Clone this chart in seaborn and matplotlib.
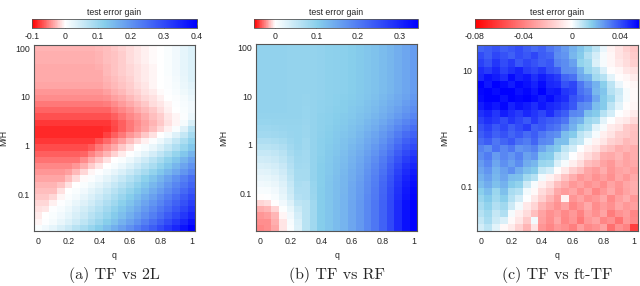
import numpy as np
import matplotlib
matplotlib.use('Agg')
import matplotlib.pyplot as plt
from matplotlib.colors import LinearSegmentedColormap
import seaborn as sns

# q grid (columns) and log10(M/H) row centres, top row first
q_vals = [0.0, 0.05, 0.1, 0.15, 0.2, 0.25, 0.3, 0.35, 0.4, 0.45, 0.5,
          0.55, 0.6, 0.65, 0.7, 0.75, 0.8, 0.85, 0.9, 0.95, 1.0]
mh_log_ab = [2.00, 1.87, 1.74, 1.61, 1.49, 1.36, 1.23, 1.10, 0.98, 0.85,
             0.72, 0.59, 0.47, 0.34, 0.21, 0.08, -0.04, -0.17, -0.30, -0.42,
             -0.55, -0.68, -0.81, -0.93, -1.06, -1.19, -1.32, -1.44, -1.57, -1.70]
mh_log_c = [1.37, 1.25, 1.13, 1.00, 0.88, 0.76, 0.63, 0.51, 0.39, 0.27,
            0.14, 0.02, -0.10, -0.22, -0.35, -0.47, -0.59, -0.71, -0.84, -0.96,
            -1.08, -1.20, -1.33, -1.45, -1.57, -1.69]

q_ticks = [0, 0.2, 0.4, 0.6, 0.8, 1]
q_tick_labels = ['0', '0.2', '0.4', '0.6', '0.8', '1']
mh_ticks_ab = [0.1, 1, 10, 100]
mh_ticks_c = [0.1, 1, 10]

# test error gain, in units of 1e-3
tf_2l = [
    [-28, -28, -28, -28, -28, -28, -28, -28, -27, -24, -20, -17, -13, -9, -6, -2, 1, 7, 15, 25, 35],
    [-30, -30, -30, -30, -30, -30, -30, -30, -29, -25, -22, -18, -14, -10, -6, -2, 1, 7, 15, 25, 35],
    [-30, -30, -30, -30, -30, -30, -30, -30, -29, -25, -22, -18, -14, -10, -6, -2, 1, 7, 15, 25, 35],
    [-32, -32, -32, -32, -32, -32, -32, -32, -31, -27, -23, -19, -15, -11, -7, -3, 1, 7, 15, 25, 35],
    [-32, -32, -32, -32, -32, -32, -32, -32, -32, -27, -23, -19, -15, -11, -7, -3, 0, 6, 14, 24, 35],
    [-33, -33, -33, -33, -33, -33, -33, -33, -33, -29, -25, -21, -17, -12, -8, -4, 0, 5, 13, 23, 35],
    [-35, -35, -35, -35, -35, -35, -35, -35, -35, -31, -26, -22, -18, -13, -9, -4, 0, 4, 11, 20, 30],
    [-40, -40, -40, -40, -40, -40, -40, -40, -40, -36, -31, -26, -21, -17, -12, -7, -2, 2, 8, 16, 25],
    [-45, -45, -45, -45, -45, -45, -45, -45, -45, -42, -37, -32, -26, -21, -16, -11, -5, 0, 4, 11, 20],
    [-52, -52, -52, -52, -52, -52, -52, -52, -52, -50, -45, -38, -32, -27, -20, -14, -9, -3, 2, 8, 15],
    [-60, -60, -60, -60, -60, -60, -60, -60, -60, -60, -53, -47, -40, -33, -27, -20, -13, -6, 0, 6, 15],
    [-68, -68, -68, -68, -68, -68, -68, -68, -68, -68, -61, -54, -47, -40, -32, -25, -18, -10, -3, 5, 20],
    [-77, -77, -77, -77, -77, -77, -77, -77, -77, -77, -70, -61, -53, -45, -37, -28, -20, -12, -4, 10, 40],
    [-83, -83, -83, -83, -83, -83, -83, -83, -83, -81, -71, -62, -53, -43, -34, -24, -15, -5, 6, 33, 70],
    [-83, -83, -83, -83, -83, -83, -83, -83, -83, -73, -62, -52, -41, -32, -21, -11, 0, 13, 34, 60, 90],
    [-77, -77, -77, -77, -77, -77, -77, -77, -68, -58, -47, -36, -25, -15, -5, 5, 19, 38, 59, 84, 110],
    [-69, -69, -69, -69, -69, -69, -69, -63, -53, -42, -32, -21, -11, 0, 9, 23, 40, 59, 81, 105, 130],
    [-62, -62, -62, -62, -62, -62, -60, -49, -38, -28, -17, -7, 2, 13, 27, 44, 63, 84, 106, 130, 155],
    [-55, -55, -55, -55, -55, -55, -44, -33, -22, -11, 0, 7, 19, 33, 50, 68, 88, 109, 132, 155, 180],
    [-47, -47, -47, -47, -47, -41, -30, -19, -9, 0, 9, 20, 35, 51, 68, 87, 108, 129, 152, 176, 200],
    [-40, -40, -40, -40, -37, -26, -15, -4, 3, 12, 24, 38, 54, 70, 89, 108, 129, 150, 173, 196, 220],
    [-34, -34, -34, -34, -24, -13, -2, 5, 14, 27, 41, 57, 74, 93, 113, 133, 155, 178, 201, 225, 250],
    [-28, -28, -28, -22, -11, 0, 6, 16, 28, 42, 57, 73, 91, 110, 130, 150, 171, 194, 217, 241, 265],
    [-24, -24, -24, -12, 0, 6, 15, 27, 40, 55, 71, 88, 106, 125, 145, 166, 187, 209, 232, 256, 280],
    [-20, -20, -15, -3, 4, 13, 24, 37, 52, 67, 85, 102, 122, 141, 162, 183, 205, 228, 251, 275, 300],
    [-16, -16, -5, 3, 11, 22, 34, 48, 63, 80, 97, 116, 135, 155, 176, 197, 220, 243, 266, 290, 315],
    [-12, -9, 2, 9, 19, 31, 45, 59, 75, 92, 110, 129, 149, 169, 190, 212, 234, 257, 281, 305, 330],
    [-8, 0, 6, 15, 26, 40, 54, 70, 86, 104, 123, 142, 163, 184, 206, 228, 251, 275, 300, 324, 350],
    [-3, 3, 11, 22, 35, 50, 65, 82, 100, 119, 138, 159, 180, 202, 225, 248, 273, 297, 323, 348, 375],
    [6, 15, 26, 39, 54, 70, 86, 104, 122, 142, 162, 183, 204, 227, 250, 273, 298, 322, 348, 374, 400],
]

tf_rf = [
    [95, 95, 94, 94, 93, 92, 92, 93, 95, 97, 99, 101, 104, 108, 113, 118, 125, 132, 140, 150, 160],
    [95, 95, 94, 94, 93, 92, 92, 93, 95, 97, 99, 101, 104, 108, 113, 118, 125, 132, 140, 150, 160],
    [95, 95, 94, 94, 93, 92, 92, 93, 95, 97, 99, 101, 104, 108, 113, 118, 125, 132, 140, 150, 160],
    [95, 95, 94, 94, 93, 92, 92, 93, 95, 97, 99, 101, 104, 108, 113, 118, 125, 132, 140, 150, 160],
    [95, 95, 94, 94, 93, 92, 92, 93, 95, 97, 99, 101, 104, 108, 113, 118, 125, 132, 140, 150, 160],
    [95, 95, 94, 94, 93, 92, 92, 93, 95, 97, 99, 101, 104, 108, 113, 118, 125, 132, 140, 150, 160],
    [95, 95, 94, 94, 93, 92, 92, 93, 95, 97, 99, 101, 104, 108, 113, 118, 125, 132, 140, 150, 160],
    [95, 95, 94, 94, 93, 92, 92, 93, 95, 97, 99, 101, 104, 108, 113, 118, 125, 132, 140, 150, 160],
    [95, 95, 94, 94, 93, 92, 91, 93, 95, 98, 100, 102, 105, 110, 115, 121, 128, 136, 145, 155, 166],
    [95, 95, 94, 94, 93, 92, 91, 93, 96, 98, 101, 103, 107, 111, 117, 123, 131, 140, 149, 161, 171],
    [95, 95, 94, 94, 93, 92, 90, 93, 96, 99, 102, 104, 109, 114, 120, 127, 136, 145, 156, 168, 179],
    [93, 93, 93, 93, 92, 92, 89, 93, 97, 100, 103, 106, 111, 117, 124, 131, 141, 151, 163, 176, 188],
    [90, 90, 91, 91, 91, 91, 88, 93, 97, 101, 105, 108, 114, 121, 129, 137, 148, 160, 174, 189, 201],
    [85, 85, 86, 88, 89, 90, 87, 93, 98, 102, 107, 111, 118, 125, 135, 144, 157, 170, 187, 203, 216],
    [80, 80, 82, 85, 88, 90, 86, 93, 99, 104, 109, 114, 121, 130, 140, 151, 165, 181, 199, 217, 230],
    [70, 70, 73, 78, 85, 90, 84, 93, 100, 105, 111, 117, 125, 134, 146, 158, 173, 191, 211, 231, 245],
    [60, 60, 63, 70, 80, 88, 83, 92, 100, 107, 113, 119, 129, 139, 152, 165, 182, 201, 224, 245, 260],
    [50, 50, 54, 62, 75, 85, 81, 92, 101, 108, 115, 122, 133, 143, 158, 172, 190, 211, 236, 259, 275],
    [40, 42, 46, 55, 70, 82, 80, 92, 102, 110, 117, 125, 136, 148, 163, 179, 199, 222, 249, 273, 290],
    [32, 34, 38, 48, 65, 80, 79, 92, 103, 111, 119, 127, 139, 152, 168, 185, 206, 231, 259, 285, 302],
    [25, 27, 32, 42, 60, 78, 78, 92, 103, 112, 121, 129, 142, 155, 173, 190, 212, 238, 269, 295, 314],
    [18, 20, 25, 35, 55, 75, 77, 92, 104, 113, 122, 131, 144, 158, 176, 195, 217, 245, 276, 304, 323],
    [12, 14, 19, 30, 50, 72, 70, 90, 104, 114, 123, 132, 146, 160, 179, 198, 222, 250, 283, 311, 330],
    [6, 8, 13, 25, 45, 70, 70, 88, 105, 114, 124, 133, 148, 162, 181, 201, 225, 254, 287, 316, 336],
    [0, 2, 8, 20, 40, 65, 70, 86, 105, 115, 124, 134, 149, 163, 183, 202, 227, 256, 290, 320, 339],
    [-8, -6, 0, 12, 30, 55, 60, 82, 105, 115, 125, 135, 150, 165, 185, 205, 230, 260, 295, 325, 345],
    [-15, -14, -8, 4, 20, 45, 60, 82, 105, 115, 125, 135, 150, 165, 185, 205, 230, 260, 295, 325, 345],
    [-20, -19, -13, -2, 12, 38, 60, 82, 105, 115, 125, 135, 150, 165, 185, 205, 230, 260, 295, 325, 345],
    [-22, -21, -16, -4, 8, 32, 60, 82, 105, 115, 125, 135, 150, 165, 185, 205, 230, 260, 295, 325, 345],
    [-23, -22, -17, -5, 5, 30, 60, 82, 105, 115, 125, 135, 150, 165, 185, 205, 230, 260, 295, 325, 345],
]

tf_fttf = [
    [36, 38, 40, 37, 39, 41, 38, 35, 37, 33, 30, 26, 22, 18, 14, 9, 3, -4, -9, -14, -18],
    [41, 38, 42, 40, 37, 41, 39, 42, 38, 36, 29, 27, 21, 17, 11, 6, 1, -3, -9, -12, -16],
    [43, 40, 45, 41, 44, 39, 42, 40, 37, 39, 31, 29, 25, 15, 13, 5, 1, -3, -7, -11, -15],
    [47, 44, 48, 43, 46, 49, 44, 42, 45, 40, 38, 29, 28, 22, 14, 11, 5, -1, -3, -8, -10],
    [48, 52, 50, 47, 53, 49, 51, 46, 50, 47, 44, 36, 34, 24, 22, 13, 10, 4, -1, -3, -6],
    [55, 51, 56, 53, 50, 54, 52, 49, 53, 48, 47, 40, 42, 33, 27, 22, 16, 9, 3, -1, -3],
    [54, 56, 53, 55, 57, 52, 54, 51, 55, 50, 51, 45, 43, 34, 31, 21, 18, 10, 7, 1, -2],
    [53, 55, 56, 52, 55, 54, 57, 53, 50, 53, 49, 47, 40, 36, 33, 24, 17, 13, 6, 1, -2],
    [50, 53, 51, 54, 49, 52, 50, 47, 51, 48, 46, 43, 39, 30, 28, 20, 17, 9, 4, -1, -3],
    [46, 49, 45, 50, 47, 44, 48, 45, 42, 47, 41, 38, 30, 29, 19, 17, 10, 6, 0, -3, -6],
    [43, 46, 44, 41, 45, 42, 39, 44, 40, 38, 36, 33, 24, 22, 14, 12, 4, 0, -5, -7, -12],
    [40, 43, 39, 42, 38, 41, 44, 37, 39, 35, 33, 27, 22, 15, 12, 4, 1, -6, -9, -16, -19],
    [38, 41, 37, 40, 36, 39, 35, 38, 33, 30, 28, 20, 17, 9, 6, 1, -5, -9, -15, -17, -20],
    [35, 38, 33, 36, 39, 34, 32, 36, 30, 29, 20, 19, 10, 8, 1, -4, -8, -14, -17, -22, -20],
    [31, 28, 34, 30, 33, 27, 29, 31, 24, 20, 17, 9, 6, 0, -5, -9, -17, -20, -25, -23, -26],
    [29, 32, 26, 30, 27, 31, 25, 27, 18, 17, 9, 6, 0, -5, -11, -16, -25, -27, -23, -29, -26],
    [26, 30, 24, 28, 25, 29, 23, 21, 14, 13, 5, 1, -5, -11, -20, -23, -29, -32, -26, -29, -27],
    [24, 27, 22, 25, 28, 23, 19, 17, 8, 6, -1, -7, -15, -20, -28, -31, -26, -33, -29, -27, -30],
    [22, 25, 21, 24, 20, 19, 13, 10, 2, -4, -10, -19, -25, -32, -29, -34, -30, -35, -28, -32, -27],
    [20, 23, 19, 22, 17, 15, 7, 1, -5, -11, -20, -26, -32, -29, -34, -31, -36, -29, -33, -28, -25],
    [16, 20, 14, 19, 12, 10, 2, -2, -11, -17, -27, -31, -28, -35, -29, -38, -32, -27, -34, -29, -26],
    [14, 17, 13, 16, 10, 6, 0, -7, -15, -23, -31, -4, -33, -29, -35, -32, -27, -37, -30, -26, -32],
    [12, 15, 11, 13, 7, 2, -7, -13, -23, -29, -34, -29, -38, -33, -27, -36, -31, -35, -28, -32, -30],
    [10, 13, 8, 11, 1, -5, -11, -20, -29, -35, -31, -37, -32, -39, -30, -35, -29, -41, -34, -31, -38],
    [8, 12, 7, 5, -2, -8, -17, 2, -30, -36, -28, -38, -33, -42, -32, -29, -38, -35, -44, -32, -37],
    [6, 9, 4, -2, -6, -14, -23, -9, -33, -38, -32, -35, -40, -30, -37, -34, -29, -45, -35, -39, -60],
]

cb_ticks_a = [-0.1, 0, 0.1, 0.2, 0.3, 0.4]
cb_ticks_b = [0, 0.1, 0.2, 0.3]
cb_ticks_c = [-0.08, -0.04, 0, 0.04]

panels = [
    dict(data=tf_2l, mh=mh_log_ab, mh_ticks=mh_ticks_ab, vmin=-0.1, vmax=0.4,
         cb_ticks=cb_ticks_a, caption='(a) TF vs 2L',
         pos=[0.053, 0.192, 0.252, 0.650], cpos=[0.050, 0.902, 0.258, 0.031], ylx=-0.16),
    dict(data=tf_rf, mh=mh_log_ab, mh_ticks=mh_ticks_ab, vmin=-0.05, vmax=0.345,
         cb_ticks=cb_ticks_b, caption='(b) TF vs RF',
         pos=[0.400, 0.192, 0.252, 0.654], cpos=[0.397, 0.902, 0.256, 0.031], ylx=-0.174),
    dict(data=tf_fttf, mh=mh_log_c, mh_ticks=mh_ticks_c, vmin=-0.08, vmax=0.0555,
         cb_ticks=cb_ticks_c, caption='(c) TF vs ft-TF',
         pos=[0.745, 0.192, 0.252, 0.650], cpos=[0.742, 0.902, 0.256, 0.031], ylx=-0.168),
]


def gain_cmap(vmin, vmax):
    # red -> white at zero -> sky blue -> blue
    z = -vmin / (vmax - vmin)
    return LinearSegmentedColormap.from_list(
        'gain', [(0, '#ff0000'), (z, '#ffffff'), (z + 0.3 * (1 - z), '#87ceeb'), (1, '#0000ff')])


sns.set_theme(style='white')
plt.rcParams['font.family'] = ['Liberation Sans', 'DejaVu Sans']
plt.rcParams['axes.unicode_minus'] = False
fs = 6.3

fig = plt.figure(figsize=(6.4, 2.86), dpi=100)

for p in panels:
    ax = fig.add_axes(p['pos'])
    cax = fig.add_axes(p['cpos'])
    vals = np.array(p['data']) / 1000.0
    sns.heatmap(vals, ax=ax, cmap=gain_cmap(p['vmin'], p['vmax']), vmin=p['vmin'], vmax=p['vmax'],
                cbar_ax=cax, cbar_kws={'orientation': 'horizontal'},
                xticklabels=False, yticklabels=False, linewidths=0)

    n = len(p['mh'])
    xpos = np.interp(q_ticks, q_vals, np.arange(len(q_vals)) + 0.5)
    ypos = np.interp(np.log10(p['mh_ticks']), p['mh'][::-1], (np.arange(n) + 0.5)[::-1])
    ax.set_xticks(xpos)
    ax.set_xticklabels(q_tick_labels)
    ax.set_yticks(ypos)
    ax.set_yticklabels(['%g' % t for t in p['mh_ticks']], rotation=0)
    ax.tick_params(direction='in', length=2.5, width=0.6, color='#444444', labelsize=fs,
                   top=True, right=True, bottom=True, left=True, pad=4)
    ax.tick_params(axis='y', pad=3)
    for sp in ax.spines.values():
        sp.set_visible(True)
        sp.set_linewidth(0.8)
        sp.set_edgecolor('#555555')
    ax.set_xlabel('q', fontsize=fs)
    ax.xaxis.set_label_coords(0.5, -0.105)
    ax.set_ylabel('M/H', fontsize=fs)
    ax.yaxis.set_label_coords(p['ylx'], 0.5)

    cb = ax.collections[0].colorbar
    cb.set_ticks(p['cb_ticks'])
    cb.set_ticklabels(['%g' % t for t in p['cb_ticks']])
    cb.outline.set_visible(True)
    cb.outline.set_linewidth(0.6)
    cb.outline.set_edgecolor('#555555')
    cax.tick_params(axis='x', direction='in', length=2, width=0.6, color='#444444',
                    top=True, bottom=True, labelsize=fs, pad=3)
    cax.set_title('test error gain', fontsize=fs, pad=3)

    x0, w = p['pos'][0], p['pos'][2]
    fig.text(x0 + w / 2, 0.038, p['caption'], ha='center', va='center',
             family='cmr10', fontsize=11.5)

fig.savefig('out.png', dpi=100)
